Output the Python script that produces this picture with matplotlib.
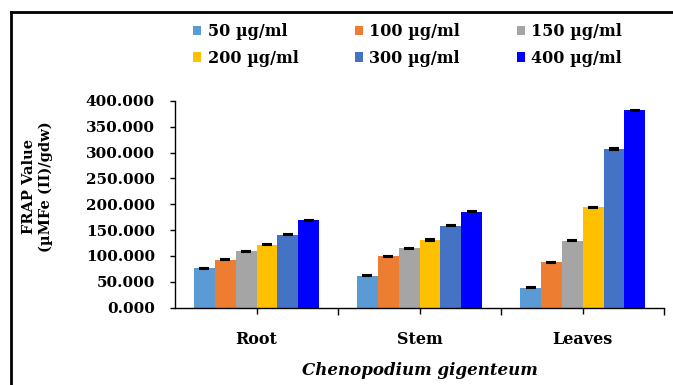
import numpy as np
import matplotlib.pyplot as plt
from matplotlib.patches import Patch
from matplotlib.lines import Line2D

parts = ['Root', 'Stem', 'Leaves']
doses = ['50 µg/ml', '100 µg/ml', '150 µg/ml', '200 µg/ml', '300 µg/ml', '400 µg/ml']
colors = ['#5B9BD5', '#ED7D31', '#A5A5A5', '#FFC000', '#4472C4', '#0000FF']

# FRAP values per dose, order: Root, Stem, Leaves
frap_50 = [75.7, 62.1, 38.8]
frap_100 = [92.6, 99.0, 87.4]
frap_150 = [109.5, 115.3, 129.5]
frap_200 = [121.8, 130.9, 194.2]
frap_300 = [140.6, 158.0, 306.8]
frap_400 = [169.0, 185.8, 381.4]
values = [frap_50, frap_100, frap_150, frap_200, frap_300, frap_400]

err_50 = [1.0, 1.0, 1.0]
err_100 = [1.0, 1.0, 1.0]
err_150 = [1.0, 1.0, 1.0]
err_200 = [1.5, 1.5, 1.0]
err_300 = [1.0, 1.0, 1.5]
err_400 = [1.0, 1.5, 1.5]
errors = [err_50, err_100, err_150, err_200, err_300, err_400]

plt.rcParams['font.family'] = 'DejaVu Serif'
plt.rcParams['font.weight'] = 'bold'

fig = plt.figure(figsize=(6.73, 3.85), dpi=100)
ax = fig.add_axes([0.260, 0.201, 0.727, 0.537])

x = np.arange(len(parts))
w = 0.128
for i in range(len(doses)):
    ax.bar(x + (i - 2.5) * w, values[i], w, color=colors[i], label=doses[i],
           yerr=errors[i], capsize=3.5, ecolor='black',
           error_kw=dict(elinewidth=0.8, capthick=1.5))

ax.set_xlim(-0.5, 2.5)
ax.set_ylim(0, 400)
ax.set_yticks(np.arange(0, 401, 50))
ax.set_yticklabels([f'{v:.3f}' for v in np.arange(0, 401, 50)], fontsize=11)
ax.set_xticks(x)
ax.set_xticklabels(parts, fontsize=11.5)
ax.set_xticks([0.5, 1.5, 2.5], minor=True)
ax.tick_params(axis='y', length=3.5, pad=11, width=1)
ax.tick_params(axis='x', which='major', length=4, pad=13, width=1)
ax.tick_params(axis='x', which='minor', length=5, width=1)
for s in ['top', 'right']:
    ax.spines[s].set_visible(False)
ax.spines['left'].set_linewidth(1)
ax.spines['bottom'].set_linewidth(1)

ax.set_xlabel('Chenopodium gigenteum', fontsize=12, style='italic',
              fontweight='bold', labelpad=10)
fig.text(0.056, 0.515, 'FRAP Value\n(µMFe (II)/gdw)', rotation=90,
         ha='center', va='center', fontsize=10.5, fontweight='bold',
         linespacing=1.25)

# legend filled row by row like the original
order = [0, 3, 1, 4, 2, 5]
handles = [Patch(facecolor=colors[i]) for i in order]
labels = [doses[i] for i in order]
fig.legend(handles, labels, loc='upper left', bbox_to_anchor=(0.287, 0.94),
           ncol=3, frameon=False, fontsize=11.5, handlelength=0.5,
           handleheight=0.5, handletextpad=0.4, columnspacing=3.55,
           labelspacing=0.6, borderpad=0, borderaxespad=0)

# frame lines on top and left of the picture
fig.add_artist(Line2D([0.0163, 1.0], [0.969, 0.969], color='black', lw=2))
fig.add_artist(Line2D([0.0163, 0.0163], [0.0, 0.969], color='black', lw=2))

fig.savefig('out.png', dpi=100)
